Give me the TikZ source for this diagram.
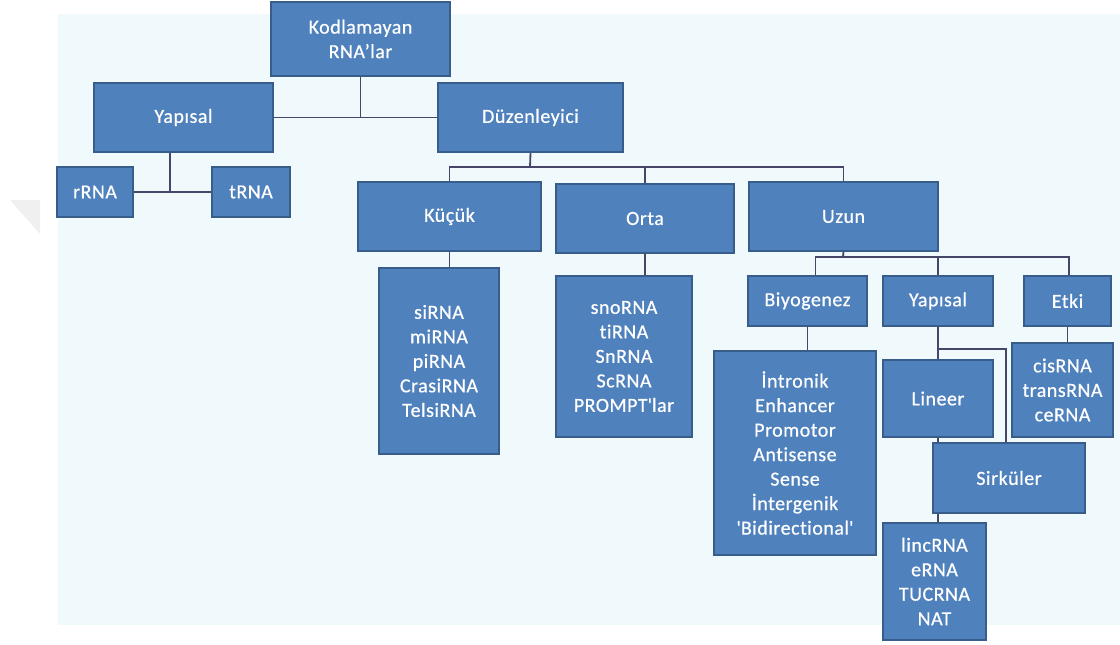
\documentclass[tikz,border=0pt]{standalone}
\usepackage{fontspec}
\setmainfont{Carlito}[Ligatures=NoCommon, LetterSpace=2.5, FakeBold=0.6]
\usepackage{tikz}
\usetikzlibrary{positioning}
\definecolor{boxblue}{RGB}{79,129,189}
\definecolor{boxline}{RGB}{56,93,138}
\definecolor{linkgray}{RGB}{72,70,104}
\definecolor{paper}{RGB}{240,249,251}
\pgfdeclarelayer{bg}
\pgfdeclarelayer{links}
\pgfsetlayers{bg,links,main}

\begin{document}
\begin{tikzpicture}[x=1pt, y=-1pt,
    box/.style={draw=boxline, fill=boxblue, line width=1.5pt, text=white,
                font=\fontsize{20}{24.5}\selectfont, align=center, inner sep=0pt},
    sz/.style 2 args={minimum width=#1, minimum height=#2},
    link/.style={draw=linkgray, line width=1.8pt}
  ]
  \useasboundingbox (0,0) rectangle (1120,645);

  \node[box, sz={179pt}{74pt}] (kod) at (360.5,39) {Kodlamayan\\RNA’lar};
  \node[box, sz={179pt}{69pt}] (yapisal) at (183.5,117.5) {Yapısal};
  \node[box, sz={185pt}{69pt}] (duzen) at (530.5,117.5) {Düzenleyici};
  \node[box, sz={76pt}{50pt}] (rrna) at (95,192) {rRNA};
  \node[box, sz={78pt}{50pt}] (trna) at (251,192) {tRNA};

  \node[box, sz={183pt}{69pt}] (kucuk) at (449.5,216.5) {Küçük};
  \node[box, sz={178pt}{69pt}] (orta) at (645,218.5) {Orta};
  \node[box, sz={189pt}{69pt}] (uzun) at (843.5,216.5) {Uzun};

  \node[box, sz={120pt}{186pt}] (kucuklist) at (439,361)
    {siRNA\\miRNA\\piRNA\\CrasiRNA\\TelsiRNA};
  \node[box, sz={136pt}{161pt}] (ortalist) at (624,356.5)
    {snoRNA\\tiRNA\\SnRNA\\ScRNA\\PROMPT\textquotesingle lar};

  \node[box, sz={119pt}{50pt}] (biyo) at (807.5,301) {Biyogenez};
  \node[box, sz={110pt}{50pt}] (yapi) at (938,301) {Yapısal};
  \node[box, sz={87pt}{50pt}] (etki) at (1067.5,301) {Etki};

  \node[box, sz={162pt}{204pt}] (biyolist) at (795,453)
    {İntronik\\Enhancer\\Promotor\\Antisense\\Sense\\İntergenik\\\textquotesingle Bidirectional\textquotesingle};
  \node[box, sz={110pt}{77pt}] (lineer) at (938,398.5) {Lineer};
  \node[box, sz={101pt}{94pt}] (etkilist) at (1062.5,390) {cisRNA\\transRNA\\ceRNA};
  \node[box, sz={152pt}{70pt}] (sirk) at (1009,478) {Sirküler};
  \node[box, sz={103pt}{117pt}] (lincl) at (934.5,581.5) {lincRNA\\eRNA\\TUCRNA\\NAT};

  \begin{pgfonlayer}{bg}
    \fill[paper] (58,14) rectangle (1120,625);
    \fill[black!6] (10,200) -- (40,200) -- (40,234) -- cycle;
  \end{pgfonlayer}

  \begin{pgfonlayer}{links}
    \draw[link] (kod.south) -- (kod.south |- yapisal.east);
    \draw[link] (yapisal.east) -- (duzen.west);
    \coordinate (yj) at (170,192);
    \draw[link] (yj |- yapisal.south) -- (yj);
    \draw[link] (rrna.east) -- (trna.west);

    \coordinate (dj) at (530,167);
    \draw[link] (duzen.south) -- (dj);
    \draw[link] (kucuk.north) |- (dj) -| (uzun.north);
    \draw[link] (orta.north) -- (orta.north |- dj);
    \draw[link] (kucuk.south) -- (kucuk.south |- kucuklist.north);
    \draw[link] (orta.south) -- (orta.south |- ortalist.north);

    \coordinate (uj) at (843,257);
    \draw[link] (uzun.south) -- (uj);
    \draw[link] ([xshift=8pt]biyo.north) |- (uj) -| ([xshift=1.5pt]etki.north);
    \draw[link] (yapi.north) -- (yapi.north |- uj);
    \draw[link] (biyo.south) -- (biyo.south |- biyolist.north);
    \draw[link] (etki.south) -| (etki.south |- etkilist.north);

    \coordinate (lj) at (938,349);
    \draw[link] (yapi.south) -- (lineer.north);
    \draw[link] (lj) -| ([xshift=-3pt]sirk.north);
    \draw[link] (lineer.south) -- (lineer.south |- lincl.north);
  \end{pgfonlayer}
\end{tikzpicture}
\end{document}
